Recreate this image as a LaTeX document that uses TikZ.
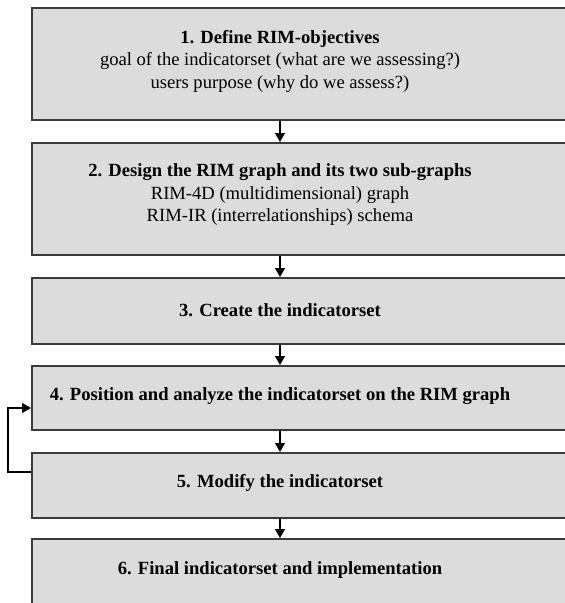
\documentclass[tikz,border=0pt]{standalone}
\usepackage{fontspec}
\setmainfont{Liberation Serif}
\usetikzlibrary{arrows.meta}
\definecolor{boxfill}{HTML}{DCDCDC}
\definecolor{boxline}{HTML}{3A3A3A}
\tikzset{
  stepbox/.style={draw=boxline, fill=boxfill, line width=1.8pt, inner sep=0pt,
    minimum width=544pt, anchor=north west},
  steptext/.style={align=center, font=\fontsize{18.6}{22.5}\selectfont, inner sep=0pt},
  flow/.style={line width=1.3pt, -{Triangle[length=9pt,width=10pt]}},
}
\begin{document}
\begin{tikzpicture}[x=1pt, y=-1pt]
  \useasboundingbox (0,0) rectangle (565,603);
  \clip (0,0) rectangle (565,603);
  % process steps
  \node[stepbox, minimum height=112pt] (b1) at (31,7) {};
  \node[stepbox, minimum height=112pt] (b2) at (31,142) {};
  \node[stepbox, minimum height=66pt] (b3) at (31,277) {};
  \node[stepbox, minimum height=64pt] (b4) at (31,365) {};
  \node[stepbox, minimum height=65pt] (b5) at (31,452) {};
  \node[stepbox, minimum height=68pt] (b6) at (31,538) {};
  % step labels
  \node[steptext] (t1) at (280,61) {\textbf{1. Define RIM-objectives}\\goal of the indicatorset (what are we assessing?)\\users purpose (why do we assess?)};
  \node[steptext] (t2) at (280,195) {\textbf{2. Design the RIM graph and its two sub-graphs}\\RIM-4D (multidimensional) graph\\RIM-IR (interrelationships) schema};
  \node[steptext] (t3) at (280,310) {\textbf{3. Create the indicatorset}};
  \node[steptext] (t4) at (280,396) {\textbf{4. Position and analyze the indicatorset on the RIM graph}};
  \node[steptext] (t5) at (280,483) {\textbf{5. Modify the indicatorset}};
  \node[steptext] (t6) at (280,570) {\textbf{6. Final indicatorset and implementation}};
  % flow between steps
  \draw[flow] (t1 |- b1.south) -- (t1 |- b2.north);
  \draw[flow] (t1 |- b2.south) -- (t1 |- b3.north);
  \draw[flow] (t1 |- b3.south) -- (t1 |- b4.north);
  \draw[flow] (t1 |- b4.south) -- (t1 |- b5.north);
  \draw[flow] (t1 |- b5.south) -- (t1 |- b6.north);
  % feedback loop from step 5 back to step 4
  \coordinate (loopout) at ([yshift=-20pt]b5.north west);
  \coordinate (loopin) at ([yshift=-43pt]b4.north west);
  \draw[flow] (loopout) -- (8,472) -- (8,408) -- (loopin);
\end{tikzpicture}
\end{document}
